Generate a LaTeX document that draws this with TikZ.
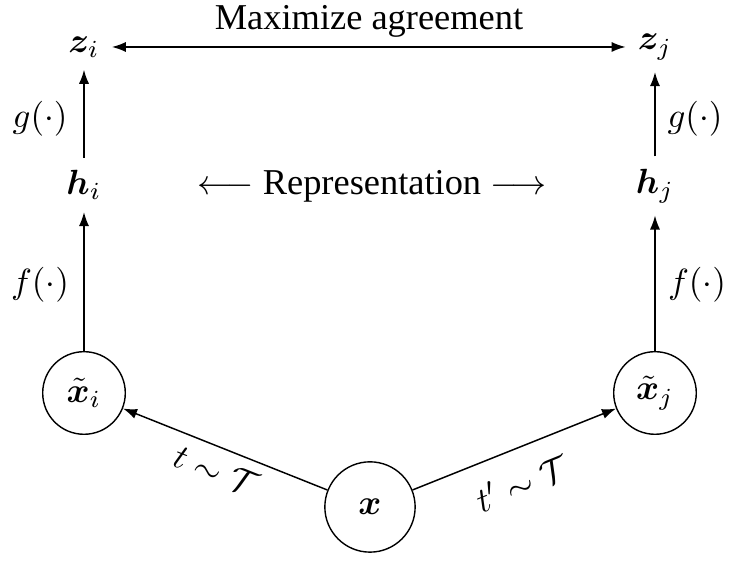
\documentclass[tikz,border=0pt]{standalone}
\usepackage{fontspec}
\setmainfont{Liberation Serif}
\usepackage{amsmath}
\usepackage{bm}
\usetikzlibrary{arrows.meta,calc}
\begin{document}
\begin{tikzpicture}[x=0.2857pt,y=-0.2857pt,
  every node/.style={font=\fontsize{10.4}{12.5}\selectfont},
  tip/.tip={Latex[length=4pt,width=2.9pt]},
  vec/.style={inner sep=0.3333em},
  circ/.style={draw,circle,minimum size=23.6pt,inner sep=0pt},
  bigcirc/.style={draw,circle,minimum size=25.8pt,inner sep=0pt},
  arr/.style={-tip,line width=0.42pt},
  dblarr/.style={tip-tip,line width=0.42pt},
  lab/.style={inner sep=0pt}]
\useasboundingbox (0,0) rectangle (741,568);
% nodes
\node[vec] (zi) at (84,47) {$\bm{z}_i$};
\node[vec] (zj) at (655,47) {$\bm{z}_j$};
\node[vec] (hi) at (84,185) {$\bm{h}_i$};
\node[vec] (hj) at (655,186) {$\bm{h}_j$};
\node[circ] (xi) at (84,393) {$\tilde{\bm{x}}_i$};
\node[circ] (xj) at (655,393) {$\tilde{\bm{x}}_j$};
\node[bigcirc] (x) at (370,507) {$\bm{x}$};
% texts
\node[lab] (agree) at (369,21) {Maximize agreement};
\node[lab] (repr) at (372,186) {$\longleftarrow$ Representation $\longrightarrow$};
\node[lab] (gi) at (40,119) {$g(\cdot)$};
\node[lab] (gj) at (695,119) {$g(\cdot)$};
\node[lab] (fi) at (40,285) {$f(\cdot)$};
\node[lab] (fj) at (697,285) {$f(\cdot)$};
\node[lab,rotate=-21.7] (ti) at (216,471) {$t \sim \mathcal{T}$};
\node[lab,rotate=22] (tj) at (522,483) {$t' \sim \mathcal{T}$};
% connectors
\draw[dblarr] (zi) -- (zj);
\draw[arr] (hi) -- (zi);
\draw[arr] (hj) -- (zj);
\draw[arr] (xi) -- (hi);
\draw[arr] (xj) -- (hj);
\draw[arr] (x) -- (xi);
\draw[arr] (x) -- (xj);
\end{tikzpicture}
\end{document}
